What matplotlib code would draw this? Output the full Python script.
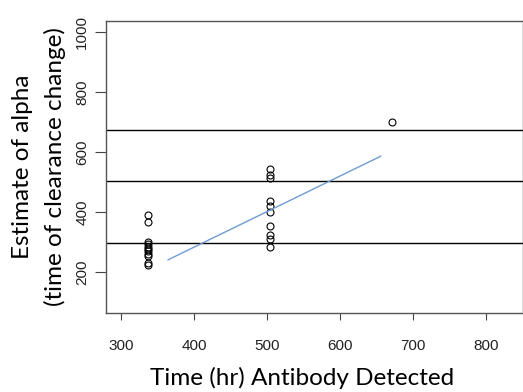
import matplotlib
matplotlib.use("Agg")
import matplotlib.pyplot as plt

plt.rcParams["font.family"] = ["Liberation Sans", "DejaVu Sans"]

# Data
x_first = [336] * 11
y_first = [390, 368, 302, 293, 284, 277, 270, 262, 254, 232, 224]
x_second = [504] * 10
y_second = [542, 525, 514, 437, 420, 400, 353, 323, 311, 284]
x_third = [672]
y_third = [700]
fit_x = [364, 656]
fit_y = [241, 586]
hlines = [672, 504, 298]
xticks = [300, 400, 500, 600, 700, 800]
yticks = [200, 400, 600, 800, 1000]

fig = plt.figure(figsize=(5.23, 3.92), dpi=100)
ax = fig.add_axes([106/523, 1 - 313/392, (523 - 106)/523, (313 - 21)/392])

xs = x_first + x_second + x_third
ys = y_first + y_second + y_third
ax.plot(xs, ys, linestyle="none", marker="o", markersize=5,
        markerfacecolor="none", markeredgecolor="black", markeredgewidth=0.8)
for h in hlines:
    ax.axhline(h, color="black", linewidth=1)
ax.plot(fit_x, fit_y, color="#6f9bd1", linewidth=1)

ax.set_xlim(278.8, 851.2)
ax.set_ylim(64, 1036)
ax.set_xticks(xticks)
ax.set_yticks(yticks)
ax.set_xticklabels([str(t) for t in xticks], fontsize=11)
ax.set_yticklabels([str(t) for t in yticks], fontsize=11,
                   rotation=90, va="center")
ax.tick_params(axis="x", length=5, pad=14, color="#444444", labelcolor="#222222")
ax.tick_params(axis="y", length=8, pad=4, color="#444444", labelcolor="#222222")
for s in ax.spines.values():
    s.set_color("#555555")
    s.set_linewidth(1)

fig.text(302/523, 1 - 378/392, "Time (hr) Antibody Detected",
         ha="center", va="center", fontsize=17.5, family="Lato")
fig.text(23/523, 1 - 167/392, "Estimate of alpha", rotation=90,
         ha="center", va="center", fontsize=17.5, family="Lato")
fig.text(55/523, 1 - 167/392, "(time of clearance change)", rotation=90,
         ha="center", va="center", fontsize=17.5, family="Lato")

fig.savefig("out.png", dpi=100)
